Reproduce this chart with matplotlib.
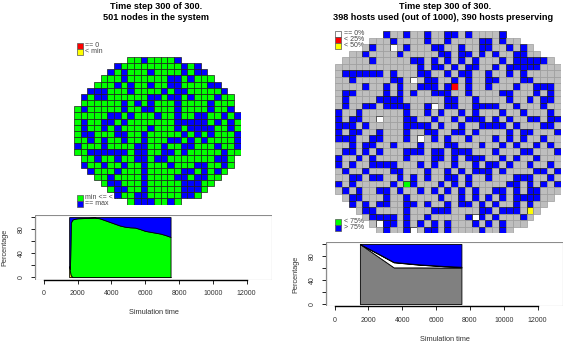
import matplotlib
matplotlib.use('Agg')
import matplotlib.pyplot as plt
from matplotlib.patches import Rectangle

plt.rcParams['font.family'] = ['Liberation Sans', 'DejaVu Sans']

W, H = 581, 351

# left map: (first col, last col) of each row, and the cells at "== max"
node_rows = [(8, 15), (6, 18), (5, 19), (4, 20), (3, 21), (2, 22), (1, 23), (1, 23),
             (0, 23), (0, 24), (0, 24), (0, 24), (0, 24), (0, 24), (0, 24), (0, 24),
             (1, 23), (1, 23), (2, 22), (3, 21), (4, 20), (5, 19), (6, 18), (8, 15)]
node_max = [[10, 15], [6, 16, 18], [5, 7, 11, 16, 18, 19], [7, 14, 15, 17],
             [6, 8, 11, 14, 15, 20, 21], [2, 3, 4, 8, 13, 15, 16, 22],
             [1, 3, 4, 11, 12, 14, 15, 17, 21], [7, 9, 11, 15, 20],
             [1, 7, 10, 11, 15, 20, 23], [5, 6, 8, 12, 15, 18, 19, 22, 24],
             [1, 4, 5, 7, 15, 16, 17, 18, 19, 21, 23], [1, 4, 6, 11, 15, 17, 18, 19, 20, 23],
             [1, 2, 6, 7, 10, 16, 18, 20, 24], [2, 4, 7, 10, 14, 15, 17, 19, 24],
             [0, 4, 9, 10, 13, 16, 17, 21, 24], [2, 3, 4, 5, 6, 7, 9, 10, 13, 14, 16, 22],
             [3, 6, 9, 10, 12, 13, 21, 22], [1, 4, 7, 10, 14, 18, 19, 22],
             [2, 6, 10, 16, 17, 19, 21], [5, 10, 15, 16, 18, 19],
             [5, 6, 10, 16, 17, 18], [6, 7, 10, 16, 17, 18], [6, 9, 10, 16, 17],
             [9, 10, 11, 14]]

# right map: row extents, hosts "> 75%", and the few other states
host_rows = [(7, 24), (5, 26), (4, 28), (2, 29), (1, 31), (0, 32)] + [(0, 32)] * 19 + \
            [(1, 31), (2, 30), (3, 29), (4, 28), (5, 27), (6, 25)]
host_busy = [[7, 10, 13, 16, 17, 19, 24], [8, 13, 16, 21, 22, 24],
             [5, 10, 14, 15, 18, 21, 22, 25, 27], [4, 9, 15, 16, 18, 19, 21, 23, 26, 27],
             [5, 11, 12, 14, 16, 18, 20, 24, 26, 27, 28, 29, 30],
             [12, 14, 15, 17, 19, 20, 23, 25, 26, 27, 28, 29],
             [1, 2, 3, 4, 5, 6, 8, 12, 13, 16, 18, 19, 22, 25, 27],
             [2, 8, 9, 13, 14, 17, 19, 22, 23, 27, 28],
             [4, 7, 9, 12, 13, 14, 16, 19, 22, 26, 29, 30, 31],
             [1, 2, 7, 9, 11, 14, 15, 16, 19, 24, 25, 29, 31],
             [1, 6, 7, 8, 9, 16, 17, 20, 25, 28, 30, 31],
             [1, 4, 5, 7, 8, 9, 10, 13, 16, 17, 20, 21, 22, 23, 26, 30],
             [0, 3, 10, 13, 15, 18, 20, 24, 27, 31],
             [0, 2, 3, 10, 11, 14, 17, 19, 20, 21, 23, 25, 28, 29, 31, 32],
             [0, 1, 2, 4, 10, 11, 12, 13, 15, 18, 21, 22, 23, 24, 26, 30, 31],
             [0, 2, 3, 6, 10, 13, 14, 17, 18, 20, 25, 27, 28, 32],
             [0, 1, 2, 5, 6, 10, 14, 16, 19, 23, 25, 27, 30],
             [2, 4, 5, 8, 12, 16, 17, 21, 24, 26, 29, 31],
             [1, 2, 4, 6, 10, 11, 12, 14, 15, 17, 18, 19, 23, 27, 28, 32],
             [0, 3, 5, 10, 14, 15, 17, 19, 20, 21, 24, 26, 29],
             [0, 2, 5, 6, 7, 8, 12, 14, 17, 20, 22, 23, 25, 28, 31],
             [1, 4, 8, 9, 13, 16, 18, 20, 21, 22, 24, 29, 30, 32],
             [2, 3, 5, 6, 9, 11, 13, 16, 17, 19, 22, 26, 27, 28, 31],
             [0, 2, 8, 11, 15, 17, 19, 25, 26, 28, 30, 32],
             [1, 3, 6, 7, 9, 12, 14, 16, 18, 20, 23, 24, 26, 28, 29],
             [2, 3, 7, 10, 15, 18, 20, 22, 24, 26, 27, 28, 29],
             [2, 4, 6, 7, 10, 11, 13, 16, 18, 19, 21, 23, 26, 28],
             [4, 5, 10, 14, 15, 16, 21, 22, 24, 25, 26],
             [5, 6, 7, 8, 10, 13, 19, 21, 23, 27],
             [6, 7, 8, 10, 12, 14, 16, 20, 22, 24],
             [7, 10, 13, 14, 16, 21, 24]]
host_other = [(2, 8, 'white'), (7, 11, 'white'), (11, 14, 'white'), (13, 6, 'white'),
              (16, 12, 'white'), (28, 20, 'white'), (29, 6, 'white'), (30, 11, 'white'),
              (8, 17, 'red'), (27, 28, 'yellow'), (23, 10, '#00ff00')]

# time series (percent of nodes / hosts)
node_time = [1500, 1550, 1600, 1700, 1800, 2000, 2500, 3000, 3300, 3600, 3900, 4200,
             4500, 4800, 5100, 5400, 5700, 6000, 6300, 6600, 6900, 7200, 7500]
node_below_min = [18, 10, 3, 0, 0, 0, 0, 0, 0, 0, 0, 0, 0, 0, 0, 0, 0, 0, 0, 0, 0, 0, 0]
node_between = [0, 4, 88, 96, 97, 98, 98.5, 99, 98, 95, 92, 89, 86, 84, 83, 82.5, 80,
                77, 75.5, 74, 72.5, 70, 67]
node_at_max = [82, 86, 9, 4, 3, 2, 1.5, 1, 2, 5, 8, 11, 14, 16, 17, 17.5, 20, 23, 24.5,
               26, 27.5, 30, 33]

host_time = [1500, 2500, 3500, 5000, 6500, 7500]
host_unused = [100, 80.5, 61, 61, 60.8, 60.5]
host_idle = [0, 4.2, 8.5, 4.5, 2.0, 1.0]
host_partial = [0, 0.6, 0.6, 0.6, 0.6, 0.6]
host_full = [0, 14.7, 29.9, 33.9, 36.6, 37.9]

GREEN, BLUE = '#00ff00', '#0000ff'
TXT = '#333333'


def px_axes(fig, x, y, w, h):
    return fig.add_axes([x / W, 1 - (y + h) / H, w / W, h / H])


def draw_map(ax, rows, base, base_edge, marked, mark_color, other=()):
    special = {(r, c): col for r, c, col in other}
    for r, (c0, c1) in enumerate(rows):
        cols = list(range(c0, c1 + 1))
        colors, edges = [], []
        for c in cols:
            if (r, c) in special:
                colors.append(special[(r, c)])
                edges.append('#1e1e1e')
            elif c in marked[r]:
                colors.append(mark_color)
                edges.append('#1e1e1e')
            else:
                colors.append(base)
                edges.append(base_edge)
        ax.bar(cols, 1, bottom=r, width=1, align='edge', color=colors,
               edgecolor=edges, linewidth=0.5, zorder=3)


def legend_keys(ax, x, y0, dy, items, size=5):
    for i, (color, label) in enumerate(items):
        y = y0 + i * dy
        ax.add_patch(Rectangle((x, y), 0.9, dy, facecolor=color, edgecolor='#555555',
                               linewidth=0.5, clip_on=False, zorder=1))
        ax.text(x + 1.2, y + dy / 2, label, fontsize=size, color='#444444',
                va='center', ha='left', clip_on=False, zorder=1)


def series_axes(ax):
    ax.set_xlim(-520, 13520)
    ax.set_ylim(-4, 104)
    for s in ['top', 'right']:
        ax.spines[s].set_visible(False)
    ax.spines['bottom'].set_bounds(0, 12000)
    ax.spines['left'].set_bounds(0, 100)
    ax.spines['bottom'].set_linewidth(1.0)
    ax.spines['left'].set_linewidth(0.8)
    ax.add_patch(Rectangle((0, 0), 1, 1, transform=ax.transAxes, fill=False,
                           edgecolor='#8c8c8c', linewidth=0.8, zorder=5))
    ax.set_xticks(range(0, 12001, 2000))
    ax.set_yticks(range(0, 101, 20))
    ax.set_yticklabels(['0', '', '40', '', '80', ''], rotation=90, va='center')
    ax.tick_params(labelsize=5, length=2.9, width=0.6, pad=4.5, labelcolor=TXT)
    ax.set_xlabel('Simulation time', fontsize=5.3, color=TXT, labelpad=9)
    ax.set_ylabel('Percentage', fontsize=5.3, color=TXT, labelpad=6.5)


fig = plt.figure(figsize=(W / 100, H / 100), dpi=100)

# ---------------- left map ----------------
axl = px_axes(fig, 74, 57, 166.7, 147.6)
axl.set_xlim(0, 25)
axl.set_ylim(24, 0)
axl.axis('off')
draw_map(axl, node_rows, GREEN, '#1e1e1e', node_max, BLUE)
legend_keys(axl, 0.5, -2.35, 1.0, [('red', '== 0'), ('yellow', '< min')])
legend_keys(axl, 0.5, 22.4, 1.0, [(GREEN, 'min <= < max'), (BLUE, '== max')])

fig.text(156 / W, 1 - 6.5 / H, 'Time step 300 of 300.', ha='center', va='center',
         fontsize=6.6, fontweight='bold')
fig.text(156 / W, 1 - 17.5 / H, '501 nodes in the system', ha='center', va='center',
         fontsize=6.6, fontweight='bold')

# ---------------- right map ----------------
axr = px_axes(fig, 335, 31, 225.7, 202.1)
axr.set_xlim(0, 33)
axr.set_ylim(31, 0)
axr.axis('off')
draw_map(axr, host_rows, '#bebebe', '#9c9c9c', host_busy, BLUE, host_other)
legend_keys(axr, 0.05, -0.05, 0.93, [('white', '== 0%'), ('red', '< 25%'), ('yellow', '< 50%')])
legend_keys(axr, 0.05, 28.8, 0.93, [(GREEN, '< 75%'), (BLUE, '> 75%')])

fig.text(445 / W, 1 - 6.5 / H, 'Time step 300 of 300.', ha='center', va='center',
         fontsize=6.6, fontweight='bold')
fig.text(443 / W, 1 - 17.5 / H, '398 hosts used (out of 1000), 390 hosts preserving',
         ha='center', va='center', fontsize=6.6, fontweight='bold')

# ---------------- left time series ----------------
axs1 = px_axes(fig, 35, 214.7, 237.3, 64.8)
axs1.stackplot(node_time, node_below_min, node_between, node_at_max,
               colors=['yellow', GREEN, BLUE], edgecolor='black', linewidth=0.6)
series_axes(axs1)

# ---------------- right time series ----------------
axs2 = px_axes(fig, 325.7, 241.6, 237.6, 64.8)
axs2.stackplot(host_time, host_unused, host_idle, host_partial, host_full,
               colors=['#808080', 'white', GREEN, BLUE], edgecolor='black', linewidth=0.6)
series_axes(axs2)

fig.savefig('out.png', dpi=100)
